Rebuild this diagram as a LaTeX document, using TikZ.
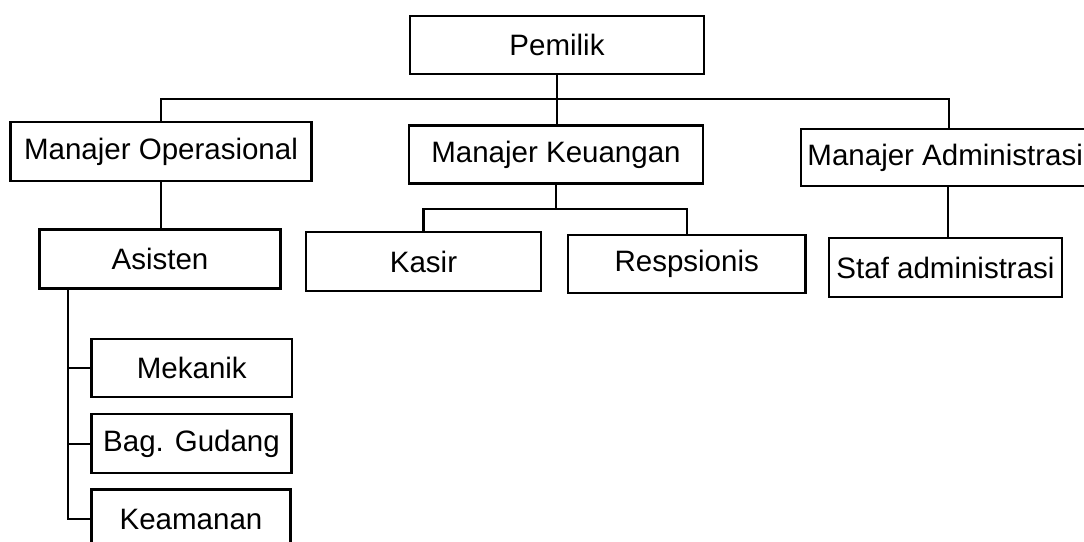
\documentclass[tikz,border=0pt]{standalone}
\usepackage{fontspec}
\setmainfont{Liberation Sans}
\begin{document}
\begin{tikzpicture}[x=1pt,y=-1pt,
  orgbox/.style={draw=black, line width=2.3pt, inner sep=0pt, align=center,
    font=\fontsize{29.5}{35}\selectfont},
  link/.style={draw=black, line width=2.3pt}]
\useasboundingbox (0,0) rectangle (1084,541);
\fill[white] (0,0) rectangle (1084,541);
\clip (0,0) rectangle (1084,541);

% top level
\node[orgbox, minimum width=294pt, minimum height=58pt] (pem) at (557,45) {Pemilik};

% managers
\node[orgbox, minimum width=301pt, minimum height=58.5pt] (mop) at (161,151.5) {Manajer Operasional};
\node[orgbox, minimum width=294pt, minimum height=58pt] (mkeu) at (556,154.5) {Manajer Keuangan};
\node[orgbox, minimum width=289pt, minimum height=57pt] (madm) at (945.2,157.5) {Manajer Administrasi};

% staff under managers
\node[orgbox, minimum width=241pt, minimum height=59pt] (asis) at (160,259) {Asisten};
\node[orgbox, minimum width=235pt, minimum height=58.5pt] (kas) at (423.5,261.5) {Kasir};
\node[orgbox, minimum width=237.5pt, minimum height=58pt] (resp) at (686.7,264) {Respsionis};
\node[orgbox, minimum width=233pt, minimum height=59pt] (staf) at (945.5,267.5) {Staf administrasi};

% units under the assistant
\node[orgbox, minimum width=200.5pt, minimum height=58pt] (mek) at (191.8,368.3) {Mekanik};
\node[orgbox, minimum width=200pt, minimum height=59pt] (gud) at (191.5,443.8) {Bag. Gudang};
\node[orgbox, minimum width=199pt, minimum height=59pt] (kea) at (191,519) {Keamanan};

% helper coordinates for the bus lines
\coordinate (bus1) at (0,99);
\coordinate (bus2) at (0,209);
\coordinate (trunk) at (68,0);
\coordinate (admtop) at ([xshift=3.8pt]madm.north);
\coordinate (admbot) at ([xshift=3pt]madm.south);

% owner to managers
\draw[link] (pem.south) -- (pem.south |- mkeu.north);
\draw[link] (mop.north) |- (admtop |- bus1) -- (admtop);

% finance manager to cashier and receptionist
\draw[link] (mkeu.south) -- (mkeu.south |- bus2);
\draw[link] (kas.north) |- (resp.north |- bus2) -- (resp.north);

% operations and administration branches
\draw[link] (mop.south) -- (mop.south |- asis.north);
\draw[link] (admbot) -- (admbot |- staf.north);

% assistant trunk with side branches
\draw[link] (asis.south -| trunk) |- (kea.west);
\draw[link] (mek.west -| trunk) -- (mek.west);
\draw[link] (gud.west -| trunk) -- (gud.west);
\end{tikzpicture}
\end{document}
